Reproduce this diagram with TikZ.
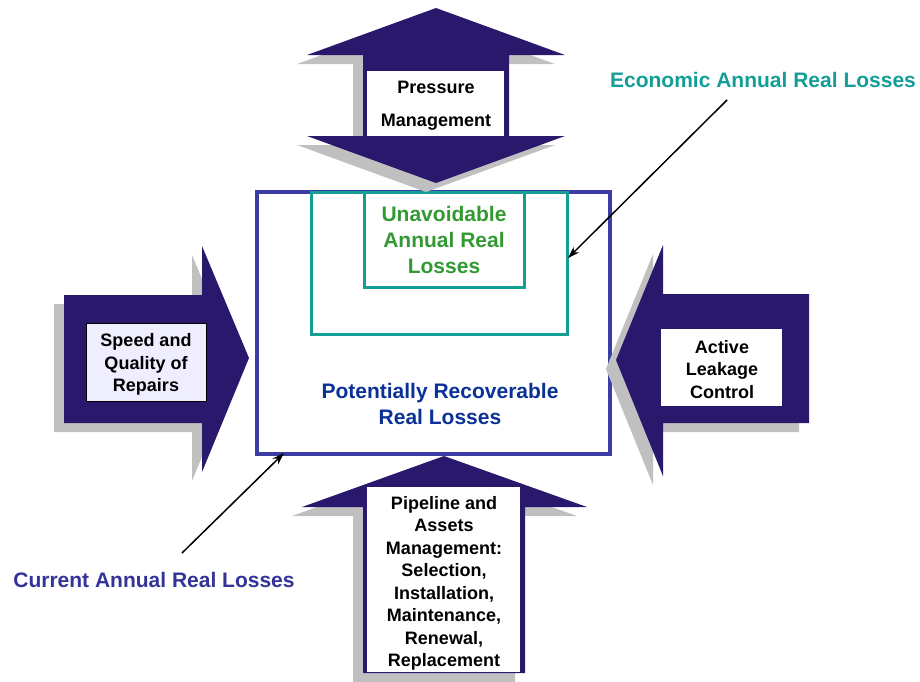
\documentclass[tikz,border=0pt]{standalone}
\usepackage{fontspec}
\setmainfont{Liberation Sans}
\usetikzlibrary{arrows.meta}
\definecolor{navy}{RGB}{42,24,108}
\definecolor{shade}{RGB}{192,192,192}
\definecolor{framecol}{RGB}{60,60,165}
\definecolor{tealc}{RGB}{20,158,152}
\definecolor{greenc}{RGB}{51,153,51}
\definecolor{bluec}{RGB}{10,50,150}
\definecolor{curc}{RGB}{51,51,153}
\definecolor{lav}{RGB}{238,238,255}
\begin{document}
\begin{tikzpicture}[x=1pt,y=-1pt,
  blockarrow/.style={fill=navy},
  shadowarrow/.style={fill=shade, shift={(-10,9)}},
  whitebox/.style={inner sep=0pt, fill=white},
  boxtext/.style={font=\fontsize{18}{22.5}\selectfont\bfseries, align=center, inner sep=0pt, text=black},
  bigtext/.style={font=\fontsize{21}{26}\selectfont\bfseries, align=center, inner sep=0pt},
  pointer/.style={draw=black, line width=1.5pt, -{Stealth[length=12pt,width=8pt]}}
]
\useasboundingbox (0,0) rectangle (920,681);

% main frame and teal frames
\draw[framecol, line width=3.2pt, fill=white] (257,192) rectangle (610,454);
\draw[tealc, line width=3pt] (311,192) rectangle (567,334);
\draw[tealc, line width=3pt] (364,192) rectangle (524,287);

% top double arrow
\def\toparrow{(436,8) -- (565,55) -- (509,55) -- (509,136) -- (565,136) -- (436,183) -- (307,136) -- (363,136) -- (363,55) -- (307,55) -- cycle}
\fill[shadowarrow] \toparrow;
\fill[blockarrow] \toparrow;

% left arrow
\def\leftarrowpath{(64,295) -- (202,295) -- (202,246) -- (249,358) -- (202,472) -- (202,423) -- (64,423) -- cycle}
\fill[shadowarrow] \leftarrowpath;
\fill[blockarrow] \leftarrowpath;

% right arrow
\def\rightarrowpath{(809,294) -- (663,294) -- (663,245) -- (616,360) -- (663,476) -- (663,423) -- (809,423) -- cycle}
\fill[shadowarrow] \rightarrowpath;
\fill[blockarrow] \rightarrowpath;

% bottom arrow
\def\bottomarrowpath{(444,456) -- (587,507) -- (525,507) -- (525,673) -- (363,673) -- (363,507) -- (302,507) -- cycle}
\fill[shadowarrow] \bottomarrowpath;
\fill[blockarrow] \bottomarrowpath;

% white boxes
\node[whitebox, minimum width=137pt, minimum height=65pt] (pmbox) at (435.5,103.5) {};
\node[whitebox, minimum width=120pt, minimum height=78pt, fill=lav, draw=black, line width=0.8pt] (sqbox) at (146,362) {};
\node[whitebox, minimum width=121pt, minimum height=77pt] (alcbox) at (721.5,367.5) {};
\node[whitebox, minimum width=153pt, minimum height=185pt] (pambox) at (443.5,579.5) {};

% box texts
\node[boxtext, font=\fontsize{18}{33}\selectfont\bfseries] (pm) at (436,106) {Pressure\\Management};
\node[boxtext] (sq) at (146,364.5) {Speed and\\Quality of\\Repairs};
\node[boxtext] (alc) at (722,369.5) {Active\\Leakage\\Control};
\node[boxtext] (pam) at (444,583.5) {Pipeline and\\Assets\\Management:\\Selection,\\Installation,\\Maintenance,\\Renewal,\\Replacement};

% inner labels
\node[bigtext, text=greenc] (ual) at (444,239.5) {Unavoidable\\Annual Real\\Losses};
\node[bigtext, text=bluec] (prl) at (440,404) {Potentially Recoverable\\Real Losses};

% outer labels
\node[bigtext, text=tealc] (earl) at (763,80) {Economic Annual Real Losses};
\node[bigtext, text=curc] (carl) at (154,580) {Current Annual Real Losses};

\coordinate (econA) at (727,100);
\coordinate (econB) at (568,258);
\coordinate (curA) at (182,553);
\coordinate (curB) at (284,453);
\draw[pointer] (econA) -- (econB);
\draw[pointer] (curA) -- (curB);
\end{tikzpicture}
\end{document}
